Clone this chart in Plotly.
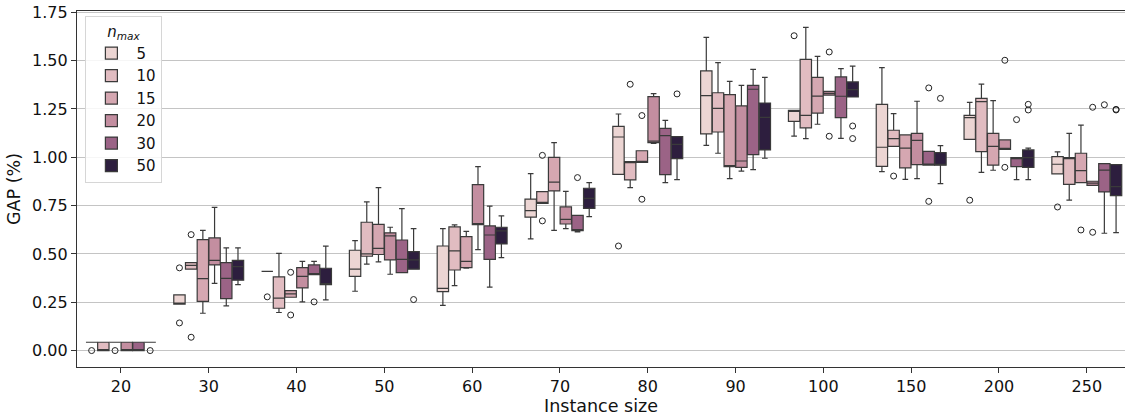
import plotly.graph_objects as go

categories = ["20", "30", "40", "50", "60", "70", "80", "90", "100", "150", "200", "250"]
hue_levels = [5, 10, 15, 20, 30, 50]
hue_colors = ["#ecd5d3", "#e1bcc1", "#d5a7b1", "#c38ea0", "#9b6386", "#2d1e3e"]

# per hue level: values across the 12 instance sizes
q1 = [
    [0.043, 0.240, 0.410, 0.384, 0.305, 0.690, 0.912, 1.121, 1.186, 0.953, 1.093, 0.914],
    [0.000, 0.421, 0.219, 0.488, 0.417, 0.762, 0.883, 1.131, 1.152, 1.057, 1.029, 0.860],
    [0.043, 0.255, 0.276, 0.497, 0.429, 0.826, 0.974, 0.952, 1.229, 0.945, 0.960, 0.869],
    [0.000, 0.443, 0.324, 0.469, 0.652, 0.655, 1.076, 0.948, 1.322, 0.962, 1.041, 0.855],
    [0.000, 0.269, 0.393, 0.403, 0.472, 0.621, 0.910, 1.014, 1.205, 0.960, 0.952, 0.821],
    [0.043, 0.364, 0.341, 0.421, 0.552, 0.736, 0.993, 1.038, 1.312, 0.959, 0.948, 0.802],
]
median = [
    [0.043, 0.243, 0.410, 0.421, 0.322, 0.724, 1.105, 1.319, 1.241, 1.052, 1.205, 0.964],
    [0.000, 0.441, 0.271, 0.500, 0.516, 0.765, 0.975, 1.253, 1.217, 1.097, 1.288, 0.995],
    [0.043, 0.372, 0.293, 0.529, 0.462, 0.872, 0.974, 0.957, 1.317, 1.047, 1.057, 0.931],
    [0.000, 0.467, 0.384, 0.593, 0.657, 0.679, 1.084, 0.981, 1.331, 1.088, 1.045, 0.866],
    [0.000, 0.374, 0.393, 0.472, 0.598, 0.622, 1.112, 1.352, 1.316, 0.962, 0.997, 0.934],
    [0.043, 0.434, 0.343, 0.469, 0.619, 0.788, 1.067, 1.207, 1.350, 0.964, 0.998, 0.848],
]
q3 = [
    [0.043, 0.288, 0.410, 0.519, 0.541, 0.784, 1.160, 1.447, 1.243, 1.274, 1.217, 1.003],
    [0.043, 0.455, 0.381, 0.664, 0.640, 0.822, 0.978, 1.334, 1.507, 1.140, 1.305, 0.998],
    [0.043, 0.574, 0.310, 0.653, 0.590, 1.000, 1.034, 1.324, 1.414, 1.116, 1.124, 1.021],
    [0.043, 0.583, 0.429, 0.609, 0.859, 0.743, 1.314, 1.266, 1.341, 1.124, 1.090, 0.876],
    [0.043, 0.455, 0.443, 0.572, 0.645, 0.700, 1.150, 1.372, 1.416, 1.031, 0.998, 0.967],
    [0.043, 0.467, 0.426, 0.512, 0.638, 0.840, 1.107, 1.281, 1.390, 1.024, 1.038, 0.962],
]
whisker_low = [
    [0.043, 0.240, 0.410, 0.307, 0.234, 0.578, 0.912, 1.062, 1.110, 0.926, 1.093, 0.914],
    [0.000, 0.421, 0.197, 0.447, 0.336, 0.762, 0.843, 1.021, 1.097, 1.057, 0.922, 0.778],
    [0.043, 0.193, 0.276, 0.459, 0.426, 0.622, 0.974, 0.890, 1.171, 0.886, 0.933, 0.869],
    [0.000, 0.348, 0.252, 0.395, 0.522, 0.631, 1.072, 0.929, 1.322, 0.890, 1.041, 0.855],
    [0.000, 0.231, 0.393, 0.403, 0.328, 0.614, 0.869, 0.936, 1.098, 0.960, 0.884, 0.607],
    [0.043, 0.341, 0.262, 0.421, 0.481, 0.693, 0.884, 0.995, 1.312, 0.864, 0.884, 0.610],
]
whisker_high = [
    [0.043, 0.288, 0.410, 0.569, 0.631, 0.916, 1.224, 1.621, 1.243, 1.464, 1.284, 1.028],
    [0.043, 0.455, 0.503, 0.769, 0.650, 0.822, 0.978, 1.490, 1.672, 1.226, 1.379, 1.124],
    [0.043, 0.622, 0.310, 0.843, 0.617, 1.076, 1.034, 1.393, 1.522, 1.116, 1.293, 1.166],
    [0.043, 0.741, 0.462, 0.638, 0.952, 0.824, 1.329, 1.372, 1.341, 1.290, 1.090, 0.876],
    [0.043, 0.531, 0.462, 0.734, 0.747, 0.700, 1.191, 1.455, 1.459, 1.031, 0.998, 0.967],
    [0.043, 0.531, 0.540, 0.631, 0.697, 0.869, 1.107, 1.414, 1.472, 1.060, 1.047, 0.962],
]

# outliers: instance-size index, hue index, value
outlier_group = [0, 0, 0, 1, 1, 1, 1, 2, 2, 2, 2, 3, 5, 5, 5, 6, 6, 6, 6, 6,
                 8, 8, 8, 8, 8, 9, 9, 9, 9, 10, 10, 10, 10, 10, 10, 11, 11, 11, 11, 11, 11, 11]
outlier_hue = [0, 2, 5, 0, 0, 1, 1, 0, 2, 2, 4, 5, 1, 1, 4, 0, 1, 2, 2, 5,
               0, 3, 3, 5, 5, 1, 4, 4, 5, 0, 3, 3, 4, 5, 5, 0, 2, 3, 3, 4, 5, 5]
outlier_value = [0.0, 0.0, 0.0, 0.428, 0.143, 0.600, 0.069, 0.278, 0.405, 0.184, 0.252, 0.264,
                 1.010, 0.671, 0.895, 0.541, 1.378, 1.216, 0.783, 1.328,
                 1.629, 1.545, 1.109, 1.162, 1.097, 0.903, 1.359, 0.772, 1.305,
                 0.778, 1.502, 0.948, 1.195, 1.274, 1.245,
                 0.743, 0.624, 1.259, 0.612, 1.272, 1.245, 1.248]

n_h = len(hue_levels)
total_w = 0.8
bw = total_w / n_h
offsets = [-total_w / 2 + bw / 2 + k * bw for k in range(n_h)]

fig = go.Figure()
for k, h in enumerate(hue_levels):
    xs = [g + offsets[k] for g in range(len(categories))]
    fig.add_trace(go.Box(
        x=xs, q1=q1[k], median=median[k], q3=q3[k],
        lowerfence=whisker_low[k], upperfence=whisker_high[k],
        name=str(h), width=bw * 0.97, whiskerwidth=0.5,
        fillcolor=hue_colors[k],
        line=dict(color="#3a3a3a", width=1.2),
        boxpoints=False, showlegend=True,
    ))

ox = [g + offsets[k] for g, k in zip(outlier_group, outlier_hue)]
fig.add_trace(go.Scatter(
    x=ox, y=outlier_value, mode="markers", showlegend=False,
    marker=dict(symbol="circle-open", size=6, color="#222222", line=dict(width=1, color="#222222")),
    hoverinfo="skip",
))

fig.update_layout(
    width=1125, height=417,
    margin=dict(l=77, r=0, t=11, b=50),
    paper_bgcolor="white", plot_bgcolor="white",
    font=dict(family="DejaVu Sans", size=16, color="#111111"),
    legend=dict(
        x=0.008, y=0.985, xanchor="left", yanchor="top",
        bgcolor="rgba(255,255,255,0.85)", bordercolor="#d6d6d6", borderwidth=1,
        font=dict(size=15),
        title=dict(text="<i>n</i><sub><i>max</i></sub>", font=dict(size=15), side="top center"),
        tracegroupgap=0, itemwidth=40,
    ),
    showlegend=True,
)
fig.update_xaxes(
    range=[-0.5, 11.435], automargin=False,
    tickmode="array", tickvals=list(range(len(categories))), ticktext=categories,
    showgrid=False, zeroline=False,
    showline=True, linecolor="#333333", linewidth=1.2, mirror=True,
    ticks="outside", ticklen=5, tickcolor="#333333",
    title=dict(text="Instance size", standoff=1, font=dict(size=17.5)),
    tickfont=dict(size=16),
)
fig.update_yaxes(
    range=[-0.085, 1.757], automargin=False,
    tickmode="array", tickvals=[0, 0.25, 0.5, 0.75, 1.0, 1.25, 1.5, 1.75],
    ticktext=["0.00", "0.25", "0.50", "0.75", "1.00", "1.25", "1.50", "1.75"],
    showgrid=True, gridcolor="#c4c4c4", gridwidth=1.3, zeroline=False,
    showline=True, linecolor="#333333", linewidth=1.2, mirror=True,
    ticks="outside", ticklen=5, tickcolor="#333333",
    title=dict(text="GAP (%)", standoff=6, font=dict(size=17.5)),
    tickfont=dict(size=16),
)

# remove the default 8px page margin so the figure sits at the window's corner
fig.write_html("out.html", config={"displayModeBar": False},
               post_script="document.body.style.margin='0';")
